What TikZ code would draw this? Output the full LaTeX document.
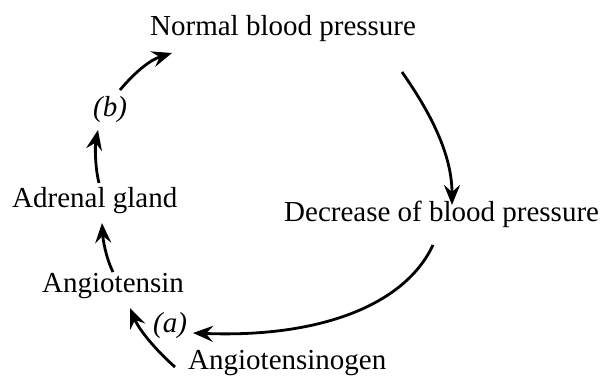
\documentclass[tikz,border=0pt]{standalone}
\usepackage{fontspec}
\setmainfont{Liberation Serif}
\usetikzlibrary{arrows.meta}
\begin{document}
\begin{tikzpicture}[x=1pt,y=-1pt,
  lbl/.style={inner sep=0pt,anchor=base west,font=\fontsize{29}{34}\selectfont},
  ilbl/.style={lbl,font=\fontsize{29}{34}\selectfont\itshape},
  conn/.style={line width=2.8pt,-{Stealth[length=20pt,width=16pt,inset=7pt]}}]
\useasboundingbox (0,0) rectangle (603,379);
\node[lbl] (nbp) at (150,36) {Normal blood pressure};
\node[lbl] (dec) at (284,222) {Decrease of blood pressure};
\node[lbl] (adr) at (12,208) {Adrenal gland};
\node[lbl] (ang) at (42,293) {Angiotensin};
\node[lbl] (agn) at (188,370) {Angiotensinogen};
\node[ilbl] (a) at (153,333) {(a)};
\node[ilbl] (b) at (93,117) {(b)};
\coordinate (bout) at (120,90);
\coordinate (nbpin) at (172,53);
\coordinate (adrout) at (99,183);
\coordinate (bin) at (98,130);
\coordinate (angout) at (113,272);
\coordinate (adrin) at (102,223);
\coordinate (agnout) at (175,367);
\coordinate (angin) at (130,308);
\coordinate (nbpout) at (402,72);
\coordinate (decin) at (452,205);
\coordinate (decout) at (433,245);
\coordinate (ain) at (193,333);
\draw[conn] (bout) .. controls (135,72) and (150,60) .. (nbpin);
\draw[conn] (adrout) .. controls (95,168) and (95,145) .. (bin);
\draw[conn] (angout) .. controls (106,258) and (103,240) .. (adrin);
\draw[conn] (agnout) .. controls (160,354) and (140,332) .. (angin);
\draw[conn] (nbpout) .. controls (425,105) and (452,150) .. (decin);
\draw[conn] (decout) .. controls (405,305) and (320,338) .. (ain);
\end{tikzpicture}
\end{document}
